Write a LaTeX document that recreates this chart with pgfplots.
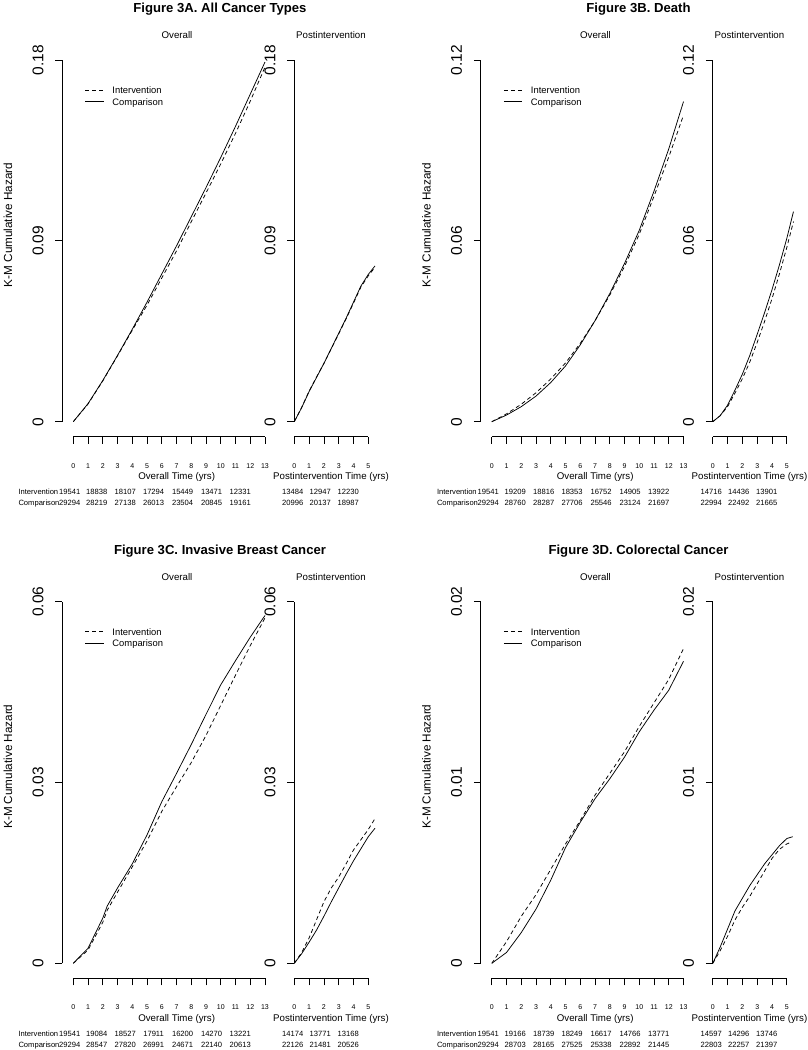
\documentclass[border=0pt]{standalone}
\usepackage{pgfplots}
\pgfplotsset{compat=1.18}
\usepackage{fontspec}
\setmainfont{Liberation Sans}
\newcommand{\fs}[1]{\fontsize{#1pt}{#1pt}\selectfont}
\pgfplotsset{
  km/.style={
    scale only axis, enlargelimits=false, clip=false,
    axis x line*=bottom, axis y line*=left,
    axis line style={-, line width=0.75pt, black},
    x axis line style={-, line width=0.75pt, black},
    axis x line shift=15pt,
    tick align=outside, major tick length=7pt,
    tick style={black, line width=0.75pt},
    height=361.7pt, ymin=0,
    scaled x ticks=false, scaled y ticks=false,
    /pgf/number format/assume math mode=true,
    xticklabel style={font=\fs{7}, anchor=center},
    yticklabel style={font=\fs{15.5}, rotate=90, anchor=center},
    xticklabel shift=22pt, yticklabel shift=17.3pt,
    anchor=origin,
  },
  ovr/.style={km, width=191.7pt, xmin=0, xmax=13,
    xtick={0,1,2,3,4,5,6,7,8,9,10,11,12,13},
    xticklabels={0,1,2,3,4,5,6,7,8,9,10,11,12,13},
    axis y line shift=11pt,
    legend cell align=left,
    legend style={draw=none, fill=none, at={(0.061,0.926)}, anchor=north west,
      inner sep=0pt, outer sep=0pt, row sep=5pt, column sep=8.4pt, font=\fs{9.4},
      nodes={inner sep=0pt, text height=6.7pt, text depth=0pt}},
    legend image code/.code={\draw[##1] (0pt,0pt) -- (18.3pt,0pt);},
  },
  pst/.style={km, width=74pt, xmin=0, xmax=5, xtick={0,1,2,3,4,5},
    xticklabels={0,1,2,3,4,5}},
  int/.style={black, line width=0.75pt, dash pattern=on 4pt off 3pt},
  cmp/.style={black, line width=0.75pt},
}
\newcommand{\xline}[1]{\draw[black, line width=0.75pt] ([yshift=-15pt]axis cs:0,0) -- ([yshift=-15pt]axis cs:#1,0);}
\newcommand{\grouptext}[1]{%
  \node[anchor=base, inner sep=0pt, font=\fs{13.1}\bfseries] at ({220pt+\DX},{1037.5pt-\DY}) {#1};
  \node[anchor=base, inner sep=0pt, font=\fs{9.7}] at ({177pt+\DX},{1011.5pt-\DY}) {Overall};
  \node[anchor=base, inner sep=0pt, font=\fs{9.7}] at ({331pt+\DX},{1011.5pt-\DY}) {Postintervention};
  \node[anchor=base, inner sep=0pt, rotate=90, font=\fs{11.7}] at ({12.2pt+\DX},{825pt-\DY}) {K-M Cumulative Hazard};
  \node[anchor=base, inner sep=0pt, font=\fs{9.7}] at ({176.7pt+\DX},{570.5pt-\DY}) {Overall Time (yrs)};
  \node[anchor=base, inner sep=0pt, font=\fs{9.7}] at ({331pt+\DX},{570.5pt-\DY}) {Postintervention Time (yrs)};
}
\newcommand{\riskrow}[3]{%
  \node[anchor=base west, inner sep=0pt, font=\fs{7.6}] at ({18.3pt+\DX},{1050pt-#1pt-\DY}) {#2};
  \foreach \v [count=\i from 0] in {#3} {
    \pgfmathsetmacro{\xx}{{69.8,96.8,125.2,153.6,182.6,211.6,240.2,292.7,320.3,348.3}[\i]}
    \node[anchor=base, inner sep=0pt, font=\fs{7.6}] at ({\xx pt+\DX},{1050pt-#1pt-\DY}) {\v};
  }
}
\begin{document}
\begin{tikzpicture}
\useasboundingbox (0,0) rectangle (808pt,1050pt);
%%%%%%%%%%%%%%%% Figure 3A
\def\DX{0pt}\def\DY{0pt}
\grouptext{Figure 3A. All Cancer Types}
\begin{axis}[ovr, at={({73.3pt+\DX},{628.3pt-\DY})}, ymax=0.18,
  ytick={0,0.09,0.18}, yticklabels={0,0.09,0.18}]
\addplot[int] coordinates {(0,0) (1,0.0088) (2,0.0203) (3,0.0328) (4,0.0455) (5,0.058) (6,0.0715) (7,0.085) (8,0.0995) (9,0.1138) (10,0.1283) (11,0.1435) (12,0.1595) (13,0.1765)};
\addlegendentry{Intervention}
\addplot[cmp] coordinates {(0,0) (1,0.009) (2,0.0205) (3,0.033) (4,0.046) (5,0.0595) (6,0.0735) (7,0.0875) (8,0.102) (9,0.1165) (10,0.1315) (11,0.147) (12,0.163) (13,0.179)};
\addlegendentry{Comparison}
\xline{13}
\end{axis}
\begin{axis}[pst, at={({294.3pt+\DX},{628.3pt-\DY})}, ymax=0.18,
  ytick={0,0.09,0.18}, yticklabels={0,0.09,0.18}]
\addplot[int] coordinates {(0,0) (0.5,0.0072) (1,0.0152) (1.5,0.0222) (2,0.029) (2.5,0.0363) (3,0.0437) (3.5,0.0512) (4,0.059) (4.5,0.067) (5,0.0726) (5.45,0.0768)};
\addplot[cmp] coordinates {(0,0) (0.5,0.007) (1,0.015) (1.5,0.022) (2,0.029) (2.5,0.0365) (3,0.044) (3.5,0.0515) (4,0.0595) (4.5,0.0675) (5,0.0733) (5.45,0.0775)};
\xline{5}
\end{axis}
\riskrow{494.7}{Intervention}{19541,18838,18107,17294,15449,13471,12331,13484,12947,12230}
\riskrow{505.7}{Comparison}{29294,28219,27138,26013,23504,20845,19161,20996,20137,18987}
%%%%%%%%%%%%%%%% Figure 3B
\def\DX{418.5pt}\def\DY{0pt}
\grouptext{Figure 3B. Death}
\begin{axis}[ovr, at={({73.3pt+\DX},{628.3pt-\DY})}, ymax=0.12,
  ytick={0,0.06,0.12}, yticklabels={0,0.06,0.12}]
\addplot[int] coordinates {(0,0) (1,0.0026) (2,0.0058) (3,0.0096) (4,0.0142) (5,0.0195) (6,0.026) (7,0.0335) (8,0.042) (9,0.0515) (10,0.0622) (11,0.0748) (12,0.0878) (13,0.1017)};
\addlegendentry{Intervention}
\addplot[cmp] coordinates {(0,0) (1,0.0022) (2,0.005) (3,0.0085) (4,0.013) (5,0.0185) (6,0.0255) (7,0.0335) (8,0.0425) (9,0.0525) (10,0.0635) (11,0.0765) (12,0.0905) (13,0.1062)};
\addlegendentry{Comparison}
\xline{13}
\end{axis}
\begin{axis}[pst, at={({294.3pt+\DX},{628.3pt-\DY})}, ymax=0.12,
  ytick={0,0.06,0.12}, yticklabels={0,0.06,0.12}]
\addplot[int] coordinates {(0,0) (0.5,0.002) (1,0.005) (1.5,0.0095) (2,0.0143) (2.5,0.0198) (3,0.0263) (3.5,0.0333) (4,0.0408) (4.5,0.049) (5,0.0578) (5.45,0.0664)};
\addplot[cmp] coordinates {(0,0) (0.5,0.002) (1,0.0055) (1.5,0.0105) (2,0.0158) (2.5,0.022) (3,0.029) (3.5,0.0362) (4,0.0438) (4.5,0.052) (5,0.0608) (5.45,0.0697)};
\xline{5}
\end{axis}
\riskrow{494.7}{Intervention}{19541,19209,18816,18353,16752,14905,13922,14716,14436,13901}
\riskrow{505.7}{Comparison}{29294,28760,28287,27706,25546,23124,21697,22994,22492,21665}
%%%%%%%%%%%%%%%% Figure 3C
\def\DX{0pt}\def\DY{541.6pt}
\grouptext{Figure 3C. Invasive Breast Cancer}
\begin{axis}[ovr, at={({73.3pt+\DX},{628.3pt-\DY})}, ymax=0.06,
  ytick={0,0.03,0.06}, yticklabels={0,0.03,0.06}]
\addplot[int] coordinates {(0,0) (1,0.0022) (2,0.0068) (2.3,0.0088) (3,0.0118) (4,0.016) (5,0.0203) (6,0.0252) (7,0.0293) (8,0.0333) (9,0.0378) (10,0.0428) (11,0.0478) (12,0.0527) (13,0.0573)};
\addlegendentry{Intervention}
\addplot[cmp] coordinates {(0,0) (1,0.0025) (2,0.0075) (2.3,0.0095) (3,0.0125) (4,0.0165) (5,0.0213) (6,0.0268) (7,0.0315) (8,0.0363) (9,0.0413) (10,0.0462) (11,0.0502) (12,0.0541) (13,0.0577)};
\addlegendentry{Comparison}
\xline{13}
\end{axis}
\begin{axis}[pst, at={({294.3pt+\DX},{628.3pt-\DY})}, ymax=0.06,
  ytick={0,0.03,0.06}, yticklabels={0,0.03,0.06}]
\addplot[int] coordinates {(0,0) (0.5,0.0018) (1,0.0042) (1.5,0.0072) (2,0.0102) (2.5,0.0125) (3,0.0143) (3.5,0.0165) (4,0.0188) (4.5,0.0205) (5,0.0222) (5.45,0.024)};
\addplot[cmp] coordinates {(0,0) (0.5,0.0016) (1,0.0035) (1.5,0.0055) (2,0.0078) (2.5,0.0102) (3,0.0125) (3.5,0.0148) (4,0.017) (4.5,0.019) (5,0.021) (5.45,0.0224)};
\xline{5}
\end{axis}
\riskrow{494.7}{Intervention}{19541,19084,18527,17911,16200,14270,13221,14174,13771,13168}
\riskrow{505.7}{Comparison}{29294,28547,27820,26991,24671,22140,20613,22126,21481,20526}
%%%%%%%%%%%%%%%% Figure 3D
\def\DX{418.5pt}\def\DY{541.6pt}
\grouptext{Figure 3D. Colorectal Cancer}
\begin{axis}[ovr, at={({73.3pt+\DX},{628.3pt-\DY})}, ymax=0.02,
  ytick={0,0.01,0.02}, yticklabels={0,0.01,0.02}]
\addplot[int] coordinates {(0,0) (1,0.0012) (2,0.0026) (3,0.0038) (4,0.0052) (5,0.0066) (6,0.0079) (7,0.0093) (8,0.0105) (9,0.0117) (10,0.0131) (11,0.0144) (12,0.0157) (13,0.0174)};
\addlegendentry{Intervention}
\addplot[cmp] coordinates {(0,0) (1,0.0006) (2,0.0017) (3,0.003) (4,0.0046) (5,0.0064) (6,0.0078) (7,0.0091) (8,0.0102) (9,0.0114) (10,0.0128) (11,0.014) (12,0.0151) (13,0.0167)};
\addlegendentry{Comparison}
\xline{13}
\end{axis}
\begin{axis}[pst, at={({294.3pt+\DX},{628.3pt-\DY})}, ymax=0.02,
  ytick={0,0.01,0.02}, yticklabels={0,0.01,0.02}]
\addplot[int] coordinates {(0,0) (0.5,0.0007) (1,0.0015) (1.5,0.0024) (2,0.0031) (2.5,0.0037) (3,0.0044) (3.5,0.0051) (4,0.0058) (4.5,0.0063) (5,0.0066) (5.3,0.0067)};
\addplot[cmp] coordinates {(0,0) (0.5,0.0009) (1,0.0019) (1.5,0.0029) (2,0.0036) (2.5,0.0043) (3,0.0049) (3.5,0.0055) (4,0.006) (4.5,0.0065) (5,0.0069) (5.4,0.007)};
\xline{5}
\end{axis}
\riskrow{494.7}{Intervention}{19541,19166,18739,18249,16617,14766,13771,14597,14296,13746}
\riskrow{505.7}{Comparison}{29294,28703,28165,27525,25338,22892,21445,22803,22257,21397}
\end{tikzpicture}
\end{document}
